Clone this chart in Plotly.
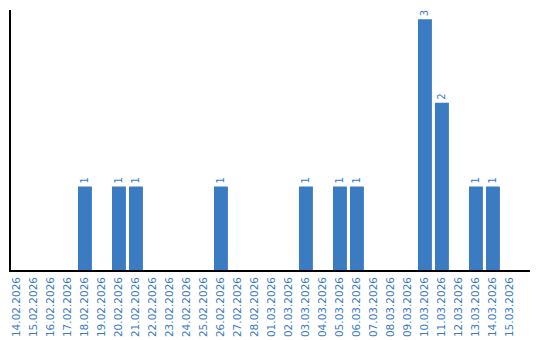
import plotly.graph_objects as go

dates = ["14.02.2026", "15.02.2026", "16.02.2026", "17.02.2026", "18.02.2026",
         "19.02.2026", "20.02.2026", "21.02.2026", "22.02.2026", "23.02.2026",
         "24.02.2026", "25.02.2026", "26.02.2026", "27.02.2026", "28.02.2026",
         "01.03.2026", "02.03.2026", "03.03.2026", "04.03.2026", "05.03.2026",
         "06.03.2026", "07.03.2026", "08.03.2026", "09.03.2026", "10.03.2026",
         "11.03.2026", "12.03.2026", "13.03.2026", "14.03.2026", "15.03.2026"]
counts = [0, 0, 0, 0, 1, 0, 1, 1, 0, 0, 0, 0, 1, 0, 0,
          0, 0, 1, 0, 1, 1, 0, 0, 0, 3, 2, 0, 1, 1, 0]

blue = "#3a7bc2"
labels = [str(v) if v else "" for v in counts]

fig = go.Figure(go.Bar(
    x=list(range(len(dates))), y=counts,
    marker=dict(color=blue, line=dict(width=0)),
    width=0.82,
    text=labels, textposition="outside", textangle=-90,
    textfont=dict(family="DejaVu Sans", size=10, color=blue),
    cliponaxis=False,
))

fig.update_layout(
    width=540, height=340,
    margin=dict(l=11, r=10, t=10, b=70),
    plot_bgcolor="white", paper_bgcolor="white",
    showlegend=False,
    xaxis=dict(
        tickmode="array", tickvals=list(range(len(dates))), ticktext=dates,
        tickangle=-90, range=[-0.35, 30.18], automargin=False,
        tickfont=dict(family="DejaVu Sans", size=10.5, color=blue),
        ticklabelstandoff=1,
        showline=True, linecolor="black", linewidth=1.5,
        showgrid=False, zeroline=False, ticks="",
    ),
    yaxis=dict(
        range=[0, 3.11], showticklabels=False, showgrid=False,
        showline=True, linecolor="black", linewidth=1.5,
        zeroline=False, ticks="", automargin=False,
    ),
)

fig.write_html("out.html")
